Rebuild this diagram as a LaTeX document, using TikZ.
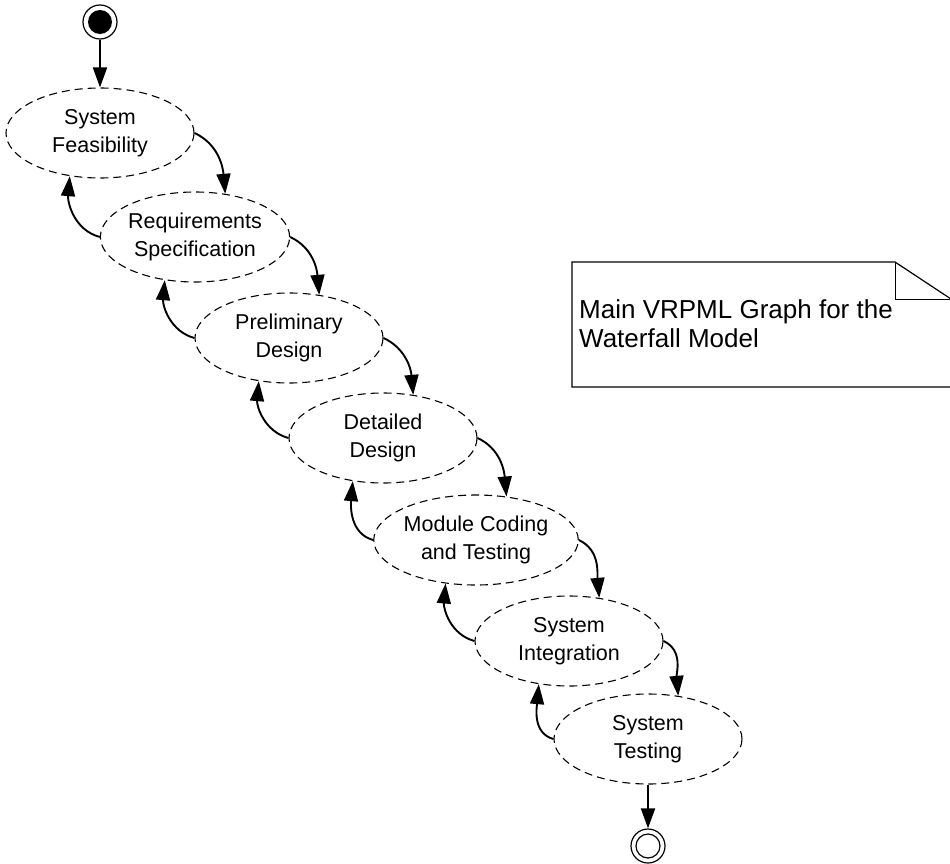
\documentclass[tikz,border=0pt]{standalone}
\usepackage{fontspec}
\setmainfont{Liberation Sans}
\usetikzlibrary{shapes.geometric,arrows.meta}
\begin{document}
\begin{tikzpicture}[x=1pt,y=1pt,
  phase/.style={ellipse, draw, dash pattern=on 8pt off 5pt, line width=1.1pt,
    minimum width=188pt, minimum height=90pt, inner sep=0pt, align=center,
    font=\fontsize{21.5}{28}\selectfont},
  flow/.style={line width=1.9pt, -{Triangle[length=20pt,width=14pt]}},
  fwd/.style={flow, out=-25, in=95},
  back/.style={flow, out=165, in=-95},
]
\useasboundingbox (0,0) rectangle (950,-864);

% start and end
\node[circle, draw, line width=1.2pt, minimum size=34pt, inner sep=0pt] (s) at (100,-22) {};
\node[circle, fill=black, minimum size=24pt, inner sep=0pt] (si) at (s) {};
\node[circle, draw, line width=1.2pt, minimum size=34pt, inner sep=0pt] (e) at (648,-846) {};
\node[circle, draw, line width=1.2pt, minimum size=24pt, inner sep=0pt] (ei) at (e) {};

% phases
\node[phase] (f) at (100,-133) {System\\Feasibility};
\node[phase] (r) at (195,-237) {Requirements\\Specification};
\node[phase] (p) at (289,-338) {Preliminary\\Design};
\node[phase] (d) at (383,-438) {Detailed\\Design};
\node[phase] (m) at (476,-540) {Module Coding\\and Testing};
\node[phase] (i) at (569,-641) {System\\Integration};
\node[phase] (t) at (648,-739) {System\\Testing};

\draw[flow] (s) -- (f);
\draw[flow] (t) -- (e);

\draw (f.east) edge[fwd] (r.55);
\draw (r.east) edge[fwd] (p.55);
\draw (p.east) edge[fwd] (d.55);
\draw (d.east) edge[fwd] (m.55);
\draw (m.east) edge[fwd] (i.55);
\draw (i.east) edge[fwd] (t.55);

\draw (r.west) edge[back] (f.-125);
\draw (p.west) edge[back] (r.-125);
\draw (d.west) edge[back] (p.-125);
\draw (m.west) edge[back] (d.-125);
\draw (i.west) edge[back] (m.-125);
\draw (t.west) edge[back] (i.-125);

% note
\coordinate (n1) at (572,-262);
\coordinate (n2) at (895,-262);
\coordinate (n3) at (951,-299);
\coordinate (n4) at (951,-387);
\coordinate (n5) at (572,-387);
\coordinate (nf) at (895,-299);
\draw[line width=1.2pt] (n1) -- (n2) -- (n3) -- (n4) -- (n5) -- cycle;
\draw[line width=1pt] (n2) -- (nf) -- (n3);
\node[anchor=north west, align=left, inner sep=0pt,
  font=\fontsize{26}{29}\selectfont] (note) at (579,-299)
  {Main VRPML Graph for the\\Waterfall Model};
\end{tikzpicture}
\end{document}
